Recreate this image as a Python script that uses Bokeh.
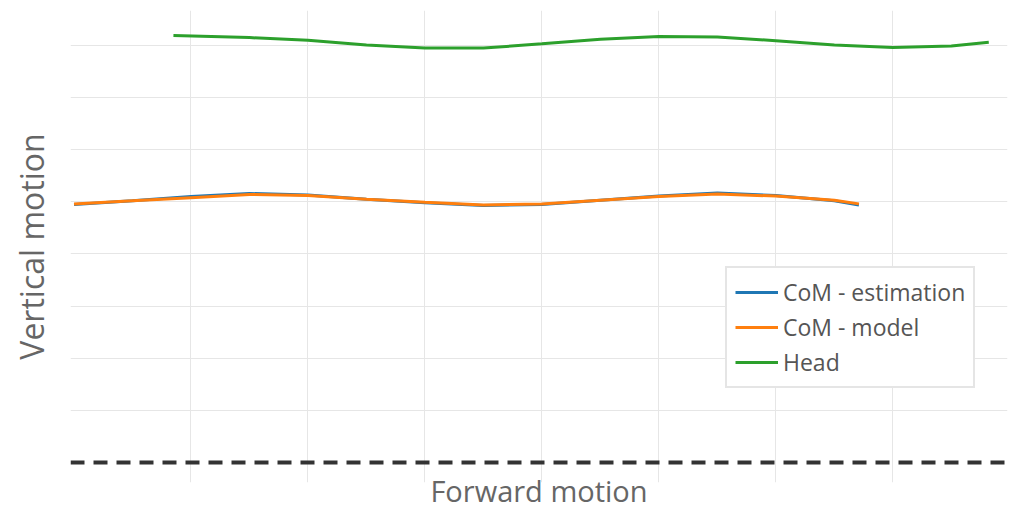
from bokeh.plotting import figure
from bokeh.models import Legend, LegendItem, Span, FixedTicker
from bokeh.embed import file_html
from bokeh.resources import INLINE

# ---- data ----
x_com = [0, 0.5, 1, 1.5, 2, 2.5, 3, 3.5, 4, 4.5, 5, 5.5, 6, 6.5, 6.71]
com_estimation = [4.95, 5.02, 5.10, 5.16, 5.13, 5.05, 4.98, 4.93, 4.95, 5.03, 5.11, 5.17, 5.12, 5.02, 4.94]
com_model = [4.96, 5.02, 5.08, 5.14, 5.12, 5.05, 4.99, 4.94, 4.96, 5.03, 5.10, 5.15, 5.11, 5.03, 4.96]
x_head = [0.85, 1.5, 2, 2.5, 3, 3.5, 4, 4.5, 5, 5.5, 6, 6.5, 7, 7.5, 7.82]
head = [8.19, 8.15, 8.10, 8.01, 7.95, 7.95, 8.03, 8.12, 8.17, 8.16, 8.09, 8.01, 7.96, 7.99, 8.06]
ground_level = 0
x_grid = [1, 2, 3, 4, 5, 6, 7]
y_grid = [1, 2, 3, 4, 5, 6, 7, 8]
series_names = ["CoM - estimation", "CoM - model", "Head"]
series_colors = ["#1f77b4", "#ff7f0e", "#2ca02c"]

FONT = "Open Sans"

p = figure(width=1021, height=512, output_backend="svg", toolbar_location=None,
           x_range=(-0.03, 7.98), y_range=(-0.385, 8.67),
           min_border_left=70, min_border_right=14, min_border_top=10, min_border_bottom=10)
p.outline_line_color = None
p.background_fill_color = "white"
p.border_fill_color = "white"

for ax in (p.xaxis[0], p.yaxis[0]):
    ax.ticker = FixedTicker(ticks=[])
    ax.axis_line_color = None
    ax.major_tick_line_color = None
    ax.minor_tick_line_color = None
    ax.major_tick_out = 0
    ax.major_tick_in = 0
    ax.major_label_standoff = 0
    ax.axis_label_text_font = FONT
    ax.axis_label_text_font_style = "normal"
    ax.axis_label_text_color = "#666666"

p.xaxis[0].axis_label = "Forward motion"
p.yaxis[0].axis_label = "Vertical motion"
p.xaxis[0].axis_label_text_font_size = "29px"
p.yaxis[0].axis_label_text_font_size = "32px"
p.xaxis[0].axis_label_standoff = -12
p.yaxis[0].axis_label_standoff = 18

p.xgrid.ticker = FixedTicker(ticks=x_grid)
p.ygrid.ticker = FixedTicker(ticks=y_grid)
p.xgrid.grid_line_color = "#e6e6e6"
p.ygrid.grid_line_color = "#e6e6e6"
p.xgrid.grid_line_width = 1
p.ygrid.grid_line_width = 1

ground = Span(location=ground_level, dimension="width", line_color="#333333",
              line_width=4, line_dash="14 9")
p.add_layout(ground)

r1 = p.line(x_com, com_estimation, line_color=series_colors[0], line_width=3)
r2 = p.line(x_com, com_model, line_color=series_colors[1], line_width=3)
r3 = p.line(x_head, head, line_color=series_colors[2], line_width=3)

legend = Legend(items=[LegendItem(label=series_names[0], renderers=[r1]),
                       LegendItem(label=series_names[1], renderers=[r2]),
                       LegendItem(label=series_names[2], renderers=[r3])],
                location=(655, 94))
legend.label_text_font = FONT
legend.label_text_font_size = "23px"
legend.label_text_color = "#555555"
legend.glyph_width = 43
legend.glyph_height = 28
legend.label_height = 28
legend.spacing = 3
legend.padding = 8
legend.label_standoff = 5
legend.border_line_color = "#cccccc"
legend.border_line_width = 2
legend.background_fill_alpha = 1
legend.margin = 0
p.add_layout(legend)

open("out.html", "w").write(file_html(p, INLINE))
